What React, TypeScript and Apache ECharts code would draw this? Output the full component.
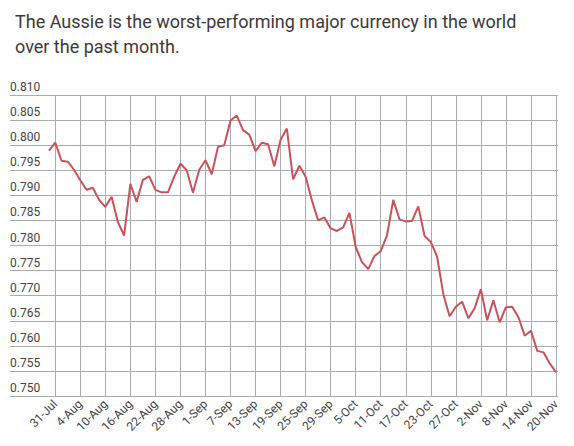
import React, { useEffect, useRef } from "react";
import * as echarts from "echarts";

const titleText = "The Aussie is the worst-performing major currency in the world\nover the past month.";

const dates: string[] = [
  "28-Jul", "31-Jul",
  "1-Aug", "2-Aug", "3-Aug", "4-Aug", "7-Aug", "8-Aug", "9-Aug", "10-Aug", "11-Aug",
  "14-Aug", "15-Aug", "16-Aug", "17-Aug", "18-Aug", "21-Aug", "22-Aug", "23-Aug", "24-Aug", "25-Aug",
  "28-Aug", "29-Aug", "30-Aug", "31-Aug",
  "1-Sep", "4-Sep", "5-Sep", "6-Sep", "7-Sep", "8-Sep", "11-Sep", "12-Sep", "13-Sep", "14-Sep", "15-Sep",
  "18-Sep", "19-Sep", "20-Sep", "21-Sep", "22-Sep", "25-Sep", "26-Sep", "27-Sep", "28-Sep", "29-Sep",
  "2-Oct", "3-Oct", "4-Oct", "5-Oct", "6-Oct", "9-Oct", "10-Oct", "11-Oct", "12-Oct", "13-Oct",
  "16-Oct", "17-Oct", "18-Oct", "19-Oct", "20-Oct", "23-Oct", "24-Oct", "25-Oct", "26-Oct", "27-Oct",
  "30-Oct", "31-Oct",
  "1-Nov", "2-Nov", "3-Nov", "6-Nov", "7-Nov", "8-Nov", "9-Nov", "10-Nov",
  "13-Nov", "14-Nov", "15-Nov", "16-Nov", "17-Nov", "20-Nov",
];

const audUsd: number[] = [
  0.7989, 0.8005, 0.7969, 0.7967, 0.7951, 0.7930, 0.7911, 0.7915, 0.7891, 0.7877,
  0.7897, 0.7847, 0.7820, 0.7923, 0.7887, 0.7931, 0.7938, 0.7911, 0.7906, 0.7906,
  0.7937, 0.7963, 0.7950, 0.7905, 0.7951, 0.7970, 0.7942, 0.7997, 0.8000, 0.8049,
  0.8059, 0.8030, 0.8021, 0.7988, 0.8005, 0.8002, 0.7958, 0.8011, 0.8033, 0.7932,
  0.7959, 0.7937, 0.7890, 0.7850, 0.7856, 0.7834, 0.7829, 0.7836, 0.7865, 0.7797,
  0.7767, 0.7753, 0.7779, 0.7789, 0.7820, 0.7891, 0.7852, 0.7848, 0.7849, 0.7878,
  0.7819, 0.7807, 0.7778, 0.7703, 0.7659, 0.7678, 0.7688, 0.7655, 0.7675, 0.7713,
  0.7651, 0.7691, 0.7647, 0.7677, 0.7678, 0.7657, 0.7620, 0.7630, 0.7590, 0.7587,
  0.7565, 0.7547,
];

const yMin = 0.75;
const yMax = 0.81;
const yStep = 0.005;

export default function App() {
  const ref = useRef<HTMLDivElement>(null);
  useEffect(() => {
    if (!ref.current) return;
    const chart = echarts.init(ref.current, undefined, { renderer: "svg" });
    const font = "Roboto";
    const showIdx = (i: number) => (i - 1) % 4 === 0;
    chart.setOption({
      animation: false,
      backgroundColor: "#ffffff",
      title: {
        text: titleText,
        left: 10,
        top: 4,
        textStyle: {
          fontFamily: font,
          fontSize: 18,
          fontWeight: "normal",
          color: "#3a3a3a",
          lineHeight: 25,
        },
      },
      grid: [
        { left: 10, right: 16, top: 95, bottom: 50 },
        { left: 49, right: 18, top: 95, bottom: 50 },
      ],
      xAxis: [
        { type: "value", gridIndex: 0, min: 0, max: 1, show: false },
        {
          type: "category",
          gridIndex: 1,
          data: dates,
          boundaryGap: false,
          axisLine: { show: false },
          axisTick: { show: false },
          axisLabel: {
            interval: (i: number) => showIdx(i),
            rotate: 45,
            margin: 6,
            fontFamily: font,
            fontSize: 12,
            color: "#444444",
          },
          splitLine: {
            show: true,
            interval: (i: number) => showIdx(i),
            lineStyle: { color: "#ababab", width: 1 },
          },
        },
      ],
      yAxis: [
        {
          type: "value",
          gridIndex: 0,
          min: yMin,
          max: yMax,
          interval: yStep,
          axisLine: { show: false },
          axisTick: { show: false },
          axisLabel: {
            inside: true,
            margin: 0,
            verticalAlign: "bottom",
            padding: [0, 0, 2, 0],
            fontFamily: font,
            fontSize: 12,
            color: "#444444",
            formatter: (v: number) => v.toFixed(3),
          },
          splitLine: { show: true, lineStyle: { color: "#ababab", width: 1 } },
        },
        {
          type: "value",
          gridIndex: 1,
          min: yMin,
          max: yMax,
          interval: yStep,
          show: false,
          splitLine: { show: false },
        },
      ],
      series: [
        {
          type: "line",
          xAxisIndex: 1,
          yAxisIndex: 1,
          data: audUsd,
          showSymbol: false,
          symbol: "none",
          lineStyle: { color: "#c9525b", width: 2 },
        },
      ],
    });
    return () => chart.dispose();
  }, []);
  return <div ref={ref} style={{ width: 574, height: 446, position: "absolute", left: 0, top: 0 }} />;
}
